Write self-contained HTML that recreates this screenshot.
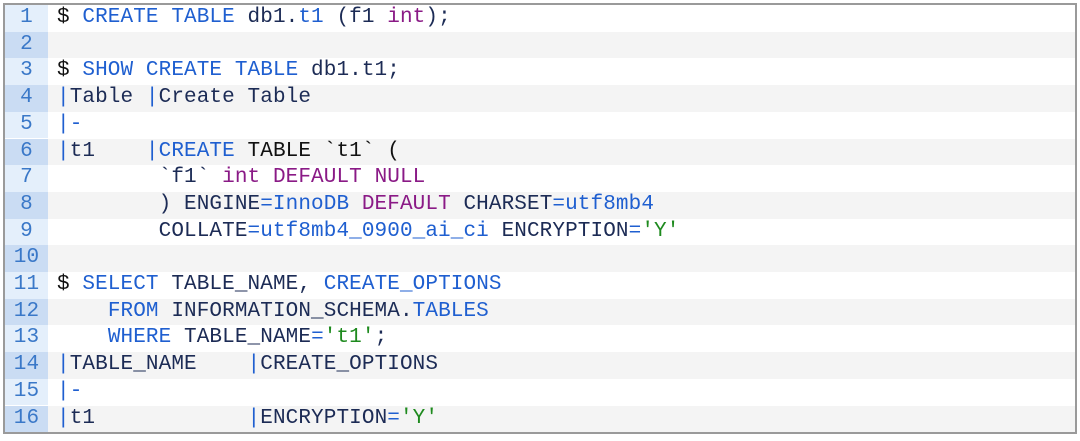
<!DOCTYPE html>
<html><head><meta charset="utf-8"><style>
html,body{margin:0;padding:0;background:#fff;width:1080px;height:441px;overflow:hidden}
.box{position:absolute;left:3px;top:3px;width:1070px;height:427px;border:2px solid #9a9a9a;background:#fff}
.row{position:absolute;left:0;width:1070px;height:26.7px;font-family:"Liberation Mono",monospace;font-size:21px;letter-spacing:0.1px;line-height:26.7px;color:#1c2b55;white-space:pre}
.row.e{background:#f4f4f4}
.g{position:absolute;left:0;top:0;width:43px;height:100%;background:#e4effb;color:#3a78c8;text-align:center}
.row.e .g{background:#cadcf3}
.c{position:absolute;left:52px;top:0}
.b{color:#1f5fd0}.p{color:#8a1a86}.s{color:#1e8a1e}.k{color:#111}
</style></head><body><div class="box">
<div class="row" style="top:0"><span class="g">1</span><span class="c"><span class="k">$</span> <span class="b">CREATE TABLE</span> db1.<span class="b">t1</span> (f1 <span class="p">int</span>);</span></div>
<div class="row e" style="top:26.7px"><span class="g">2</span></div>
<div class="row" style="top:53.4px"><span class="g">3</span><span class="c"><span class="k">$</span> <span class="b">SHOW CREATE TABLE</span> db1.t1;</span></div>
<div class="row e" style="top:80.1px"><span class="g">4</span><span class="c"><span class="b">|</span>Table <span class="b">|</span>Create Table</span></div>
<div class="row" style="top:106.8px"><span class="g">5</span><span class="c"><span class="b">|-</span></span></div>
<div class="row e" style="top:133.5px"><span class="g">6</span><span class="c"><span class="b">|</span>t1    <span class="b">|CREATE</span> <span class="k">TABLE `t1` (</span></span></div>
<div class="row" style="top:160.2px"><span class="g">7</span><span class="c">        `f1` <span class="p">int DEFAULT NULL</span></span></div>
<div class="row e" style="top:186.9px"><span class="g">8</span><span class="c">        ) ENGINE<span class="b">=InnoDB</span> <span class="p">DEFAULT</span> CHARSET<span class="b">=utf8mb4</span></span></div>
<div class="row" style="top:213.6px"><span class="g">9</span><span class="c">        COLLATE<span class="b">=utf8mb4_0900_ai_ci</span> ENCRYPTION<span class="b">=</span><span class="s">'Y'</span></span></div>
<div class="row e" style="top:240.3px"><span class="g">10</span></div>
<div class="row" style="top:267px"><span class="g">11</span><span class="c"><span class="k">$</span> <span class="b">SELECT</span> TABLE_NAME, <span class="b">CREATE_OPTIONS</span></span></div>
<div class="row e" style="top:293.7px"><span class="g">12</span><span class="c">    <span class="b">FROM</span> INFORMATION_SCHEMA.<span class="b">TABLES</span></span></div>
<div class="row" style="top:320.4px"><span class="g">13</span><span class="c">    <span class="b">WHERE</span> TABLE_NAME<span class="b">=</span><span class="s">'t1'</span>;</span></div>
<div class="row e" style="top:347.1px"><span class="g">14</span><span class="c"><span class="b">|</span>TABLE_NAME    <span class="b">|</span>CREATE_OPTIONS</span></div>
<div class="row" style="top:373.8px"><span class="g">15</span><span class="c"><span class="b">|-</span></span></div>
<div class="row e" style="top:400.5px"><span class="g">16</span><span class="c"><span class="b">|</span>t1            <span class="b">|</span>ENCRYPTION<span class="b">=</span><span class="s">'Y'</span></span></div>
</div></body></html>
